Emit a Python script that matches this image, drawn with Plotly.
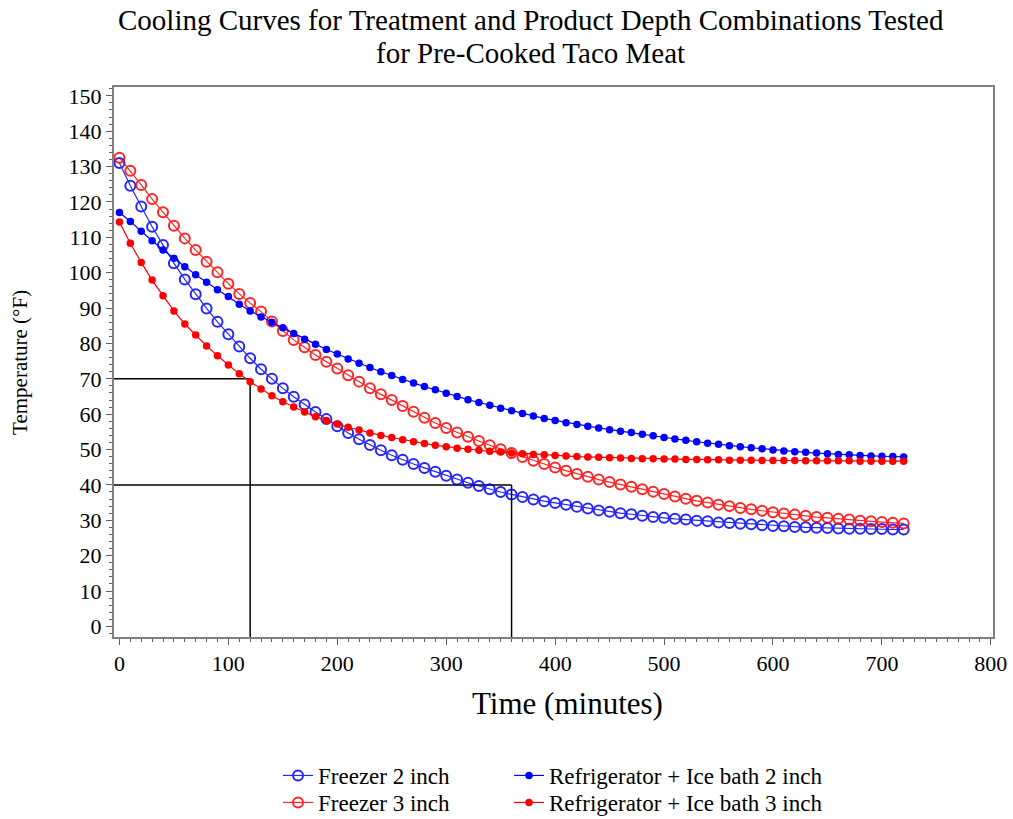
import plotly.graph_objects as go

# Sampling times (minutes), every 10 min from 0 to 720
time_min = list(range(0, 721, 10))

# Product temperature (°F) at each sampling time
freezer_2in = [
    131.0, 124.6, 118.7, 113.0, 107.8, 102.7, 98.1, 93.9, 89.9, 86.1,
    82.6, 79.1, 75.8, 72.7, 70.0, 67.3, 64.9, 62.7, 60.6, 58.6,
    56.6, 54.7, 52.9, 51.3, 49.8, 48.4, 47.1, 45.9, 44.8, 43.7,
    42.6, 41.5, 40.6, 39.7, 38.8, 38.0, 37.3, 36.6, 35.9, 35.4,
    34.9, 34.4, 33.8, 33.3, 32.8, 32.4, 32.0, 31.7, 31.3, 30.9,
    30.7, 30.4, 30.2, 29.9, 29.7, 29.4, 29.2, 29.0, 28.9, 28.6,
    28.4, 28.3, 28.1, 28.0, 27.9, 27.8, 27.7, 27.6, 27.6, 27.5,
    27.5, 27.4, 27.4,
]
freezer_3in = [
    132.5, 128.8, 124.8, 120.8, 117.1, 113.3, 109.7, 106.4, 103.1, 100.1,
    96.9, 94.0, 91.4, 89.0, 86.2, 83.5, 81.0, 78.9, 76.7, 74.8,
    72.9, 71.0, 69.2, 67.3, 65.6, 64.0, 62.3, 60.7, 59.0, 57.5,
    56.1, 54.8, 53.6, 52.4, 51.2, 50.1, 49.0, 47.9, 46.8, 45.9,
    44.9, 44.0, 43.1, 42.3, 41.5, 40.8, 40.1, 39.5, 38.8, 38.1,
    37.4, 36.7, 36.1, 35.5, 35.0, 34.4, 34.0, 33.5, 33.1, 32.7,
    32.3, 31.9, 31.6, 31.3, 30.9, 30.7, 30.4, 30.2, 29.9, 29.7,
    29.5, 29.3, 29.1,
]
fridge_ice_2in = [
    117.0, 114.5, 111.7, 109.0, 106.4, 104.1, 101.7, 99.4, 97.3, 95.2,
    93.3, 91.1, 89.2, 87.5, 86.0, 84.4, 82.8, 81.2, 79.8, 78.3,
    77.0, 75.6, 74.4, 73.2, 72.0, 70.9, 69.8, 68.8, 67.8, 66.9,
    65.9, 65.0, 64.1, 63.3, 62.5, 61.7, 61.0, 60.2, 59.5, 58.8,
    58.2, 57.6, 57.1, 56.6, 56.1, 55.6, 55.2, 54.8, 54.3, 53.9,
    53.4, 53.0, 52.6, 52.2, 51.8, 51.5, 51.1, 50.8, 50.5, 50.2,
    49.9, 49.6, 49.4, 49.2, 49.0, 48.8, 48.6, 48.5, 48.3, 48.2,
    48.1, 48.0, 47.9,
]
fridge_ice_3in = [
    114.3, 108.3, 102.9, 97.9, 93.5, 89.2, 85.5, 82.4, 79.3, 76.5,
    73.9, 71.4, 69.2, 67.1, 65.2, 63.5, 62.0, 60.6, 59.3, 58.2,
    57.2, 56.3, 55.5, 54.7, 54.0, 53.4, 52.8, 52.2, 51.7, 51.2,
    50.8, 50.4, 50.1, 49.8, 49.5, 49.3, 49.0, 48.8, 48.6, 48.5,
    48.3, 48.2, 48.0, 47.9, 47.8, 47.7, 47.6, 47.5, 47.4, 47.4,
    47.3, 47.3, 47.2, 47.2, 47.1, 47.1, 47.0, 47.0, 47.0, 46.9,
    46.9, 46.9, 46.9, 46.8, 46.8, 46.8, 46.8, 46.8, 46.7, 46.7,
    46.7, 46.7, 46.7,
]

# Cooling guideline limits: 70 °F within 120 min, 40 °F within 360 min
stage1_time, stage1_temp = 120, 70
stage2_time, stage2_temp = 360, 40

x_ticks = list(range(0, 801, 100))
y_ticks = list(range(0, 151, 10))

FONT = "Liberation Serif, Times New Roman, serif"
BLUE = "#0000FF"
RED = "#FF0000"

fig = go.Figure()

# One legend per entry so the two-column key can be laid out like the SAS one
series = [
    ("Freezer 2 inch", freezer_2in, BLUE, "circle-open", "legend"),
    ("Freezer 3 inch", freezer_3in, RED, "circle-open", "legend2"),
    ("Refrigerator + Ice bath 2 inch", fridge_ice_2in, BLUE, "circle", "legend3"),
    ("Refrigerator + Ice bath 3 inch", fridge_ice_3in, RED, "circle", "legend4"),
]
for name, temps, color, symbol, leg in series:
    is_open = symbol == "circle-open"
    fig.add_trace(go.Scatter(
        x=time_min, y=temps, name=name, mode="lines+markers",
        legend=leg,
        line=dict(color=color, width=1.2),
        opacity=0.85 if is_open else 1.0,
        marker=dict(symbol=symbol, color=color,
                    size=10 if is_open else 7.5,
                    line=dict(width=2 if is_open else 0, color=color)),
    ))

# Guideline reference lines
x_left = -5
y_bottom = -3
for t_lim, temp_lim in [(stage1_time, stage1_temp), (stage2_time, stage2_temp)]:
    fig.add_shape(type="line", xref="x", yref="y", x0=x_left, x1=t_lim,
                  y0=temp_lim, y1=temp_lim, line=dict(color="black", width=1.5),
                  layer="below")
    fig.add_shape(type="line", xref="x", yref="y", x0=t_lim, x1=t_lim,
                  y0=temp_lim, y1=y_bottom, line=dict(color="black", width=1.5),
                  layer="below")

axis_common = dict(
    showline=True, mirror=True, linecolor="#808080", linewidth=2,
    showgrid=False, zeroline=False,
    ticks="outside", ticklen=6, tickcolor="#606060", tickwidth=1,
    tickfont=dict(family=FONT, size=22, color="black"),
)

fig.update_xaxes(range=[x_left, 802], tickvals=x_ticks,
                 minor=dict(ticks="outside", ticklen=3, dtick=10, tickcolor="#606060"),
                 **axis_common)
fig.update_yaxes(range=[y_bottom, 152.5], tickvals=y_ticks,
                 minor=dict(ticks="outside", ticklen=3, dtick=2, tickcolor="#606060"),
                 **axis_common)

legend_style = dict(xanchor="left", yanchor="top", font=dict(family=FONT, size=23),
                    bgcolor="rgba(0,0,0,0)", tracegroupgap=0)
col1_x, col2_x = 0.1866, 0.4494
row1_y, row2_y = -0.2127, -0.2618

fig.update_layout(
    width=1013, height=819,
    margin=dict(l=114, r=20, t=87, b=182, autoexpand=False),
    paper_bgcolor="white", plot_bgcolor="white",
    font=dict(family=FONT, color="black"),
    showlegend=True,
    legend=dict(x=col1_x, y=row1_y, **legend_style),
    legend2=dict(x=col1_x, y=row2_y, **legend_style),
    legend3=dict(x=col2_x, y=row1_y, **legend_style),
    legend4=dict(x=col2_x, y=row2_y, **legend_style),
    annotations=[
        dict(text="Cooling Curves for Treatment and Product Depth Combinations Tested",
             xref="paper", yref="paper", x=0.4744, y=1.1218, showarrow=False,
             xanchor="center", yanchor="middle", font=dict(family=FONT, size=29)),
        dict(text="for Pre-Cooked Taco Meat",
             xref="paper", yref="paper", x=0.4744, y=1.0618, showarrow=False,
             xanchor="center", yanchor="middle", font=dict(family=FONT, size=29)),
        dict(text="Time (minutes)", xref="paper", yref="paper", x=0.5154, y=-0.12,
             showarrow=False, xanchor="center", yanchor="middle",
             font=dict(family=FONT, size=31)),
        dict(text="Temperature (°F)", xref="paper", yref="paper", x=-0.107, y=0.5,
             showarrow=False, xanchor="center", yanchor="middle", textangle=-90,
             font=dict(family=FONT, size=21)),
    ],
)

fig.write_html("out.html")
